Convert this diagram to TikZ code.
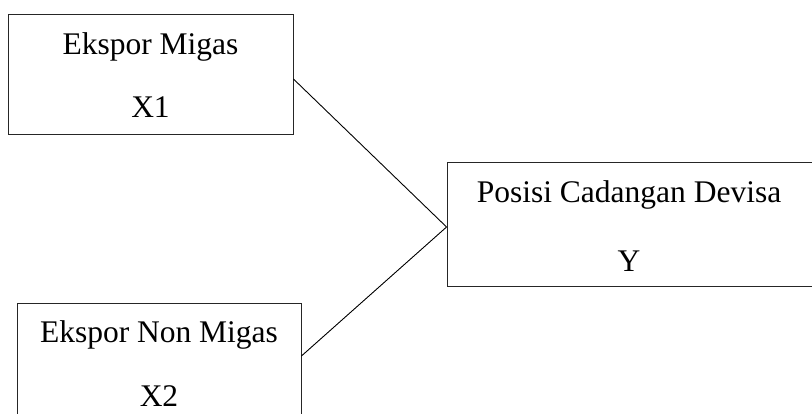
\documentclass[tikz,border=0pt]{standalone}
\usepackage{fontspec}
\setmainfont{Liberation Serif}
\usetikzlibrary{calc}
\begin{document}
\begin{tikzpicture}[x=1pt,y=1pt,
  box/.style={draw=black!85, line width=0.9pt, rectangle, inner sep=0pt},
  lbl/.style={anchor=base, inner sep=0pt, font=\fontsize{31.5}{38}\selectfont},
  conn/.style={draw=black, line width=0.9pt}]
\useasboundingbox (0,0) rectangle (812,413);
% boxes
\node[box, minimum width=285pt, minimum height=120pt] (b1) at (150.5,339) {};
\node[box, minimum width=284pt, minimum height=117pt] (b2) at (159,51.5) {};
\node[box, minimum width=366pt, minimum height=124pt] (b3) at (630,189) {};
% texts
\node[lbl] (t1a) at (150.5,358) {Ekspor Migas};
\node[lbl] (t1b) at (150.5,295) {X1};
\node[lbl] (t2a) at (159,71) {Ekspor Non Migas};
\node[lbl] (t2b) at (159,7) {X2};
\node[lbl] (t3a) at (629,210) {Posisi Cadangan Devisa};
\node[lbl] (t3b) at (629,141) {Y};
% connection points
\coordinate (p1) at ($(b1.east)+(0,-5)$);
\coordinate (p2) at ($(b2.east)+(0,5.5)$);
\coordinate (p3) at ($(b3.west)+(0,-3)$);
\draw[conn] (p1) -- (p3) -- (p2);
\end{tikzpicture}
\end{document}
